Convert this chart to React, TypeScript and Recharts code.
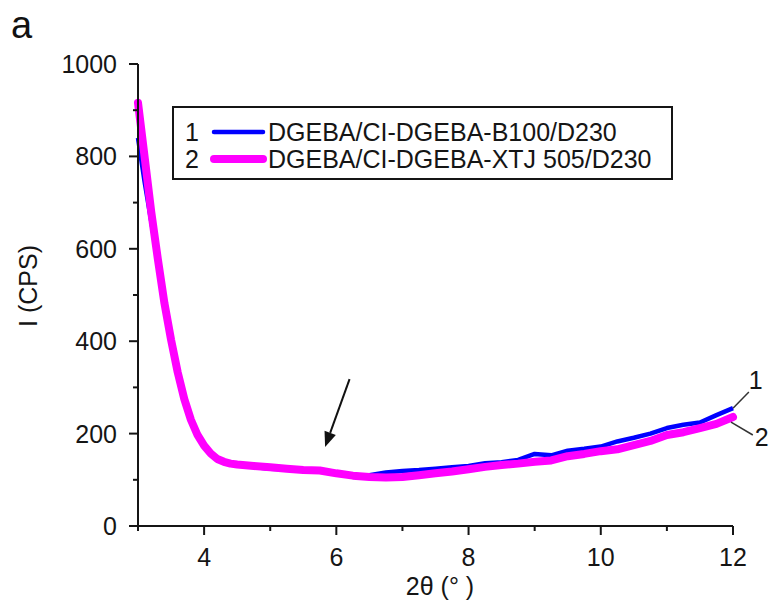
import React from "react";
import {
  LineChart,
  Line,
  XAxis,
  YAxis,
  ReferenceLine,
  Legend,
} from "recharts";

// 2θ grid
const twoTheta = [
  3.0, 3.1, 3.2, 3.3, 3.4, 3.5, 3.6, 3.7, 3.8, 3.9, 4.0, 4.1, 4.2, 4.3, 4.4,
  4.5, 4.75, 5.0, 5.25, 5.5, 5.75, 6.0, 6.25, 6.5, 6.75, 7.0, 7.25, 7.5, 7.75,
  8.0, 8.25, 8.5, 8.75, 9.0, 9.25, 9.5, 9.75, 10.0, 10.25, 10.5, 10.75, 11.0,
  11.25, 11.5, 11.75, 12.0,
];

// 1: DGEBA/CI-DGEBA-B100/D230
const seriesB100 = [
  840, 745, 660, 572, 480, 402, 333, 274, 229, 196, 173, 156, 144, 138, 134,
  132, 128, 124, 123, 121, 119, 113, 110, 110, 116, 119, 121, 124, 127, 130,
  136, 138, 143, 156, 153, 163, 167, 172, 183, 191, 200, 212, 219, 224, 240,
  255,
];

// 2: DGEBA/CI-DGEBA-XTJ 505/D230
const seriesXTJ = [
  916, 799, 680, 578, 482, 403, 333, 275, 230, 197, 174, 157, 145, 139, 135,
  133, 130, 127, 124, 121, 120, 114, 109, 106, 105, 106, 110, 114, 118, 123,
  128, 132, 135, 139, 142, 151, 156, 162, 166, 175, 184, 197, 203, 212, 221,
  236,
];

const xTicks = [3, 4, 5, 6, 7, 8, 9, 10, 11, 12];
const xLabelled = [4, 6, 8, 10, 12];
const yTicks = [0, 100, 200, 300, 400, 500, 600, 700, 800, 900, 1000];
const yLabelled = [0, 200, 400, 600, 800, 1000];

const legendItems = [
  { no: "1", name: "DGEBA/CI-DGEBA-B100/D230", color: "#0000ff", width: 4.5 },
  { no: "2", name: "DGEBA/CI-DGEBA-XTJ 505/D230", color: "#ff00ff", width: 8 },
];

const data = twoTheta.map((x, i) => ({
  x,
  b100: seriesB100[i],
  xtj: seriesXTJ[i],
}));

const FONT = "'Liberation Sans', Arial, sans-serif";
const INK = "#151515";

const XTick = (props: any) => {
  const { x, y, payload } = props;
  const major = xLabelled.includes(payload.value);
  return (
    <g>
      <line x1={x} y1={y} x2={x} y2={y + (major ? 9 : 5)} stroke={INK} strokeWidth={2} />
      {major && (
        <text x={x} y={y + 40} textAnchor="middle" fontSize={25} fontFamily={FONT} fill={INK}>
          {payload.value}
        </text>
      )}
    </g>
  );
};

const YTick = (props: any) => {
  const { x, y, payload } = props;
  const major = yLabelled.includes(payload.value);
  return (
    <g>
      <line x1={x} y1={y} x2={x - (major ? 9 : 5)} y2={y} stroke={INK} strokeWidth={2} />
      {major && (
        <text x={x - 21} y={y + 9} textAnchor="end" fontSize={25} fontFamily={FONT} fill={INK}>
          {payload.value}
        </text>
      )}
    </g>
  );
};

// arrow pointing at the weak hump
const arrowShape = (p: any) => {
  const { x1, y1, x2, y2 } = p;
  const dx = x2 - x1;
  const dy = y2 - y1;
  const len = Math.sqrt(dx * dx + dy * dy);
  const ux = dx / len;
  const uy = dy / len;
  const bx = x2 - ux * 15;
  const by = y2 - uy * 15;
  return (
    <g>
      <line x1={x1} y1={y1} x2={bx} y2={by} stroke="#111" strokeWidth={2} />
      <polygon
        points={`${x2},${y2} ${bx - uy * 6},${by + ux * 6} ${bx + uy * 6},${by - ux * 6}`}
        fill="#111"
      />
    </g>
  );
};

const leader = (label: string, tx: number, ty: number) => (p: any) => {
  const { x1, y1, x2, y2 } = p;
  return (
    <g>
      <line x1={x1} y1={y1} x2={x2} y2={y2} stroke="#333" strokeWidth={1.5} />
      <text x={x2 + tx} y={y2 + ty} fontSize={25} fontFamily={FONT} fill={INK}>
        {label}
      </text>
    </g>
  );
};

const renderLegend = () => (
  <div
    style={{
      boxSizing: "border-box",
      width: 501,
      height: 74,
      border: `2px solid ${INK}`,
      background: "#fff",
      position: "relative",
      fontFamily: FONT,
      fontSize: 25,
      color: INK,
    }}
  >
    {legendItems.map((it, i) => (
      <div
        key={it.no}
        style={{
          position: "absolute",
          left: 11,
          top: 10 + i * 27,
          height: 28,
          lineHeight: "28px",
          display: "flex",
          alignItems: "center",
          whiteSpace: "nowrap",
        }}
      >
        <span style={{ width: 25 }}>{it.no}</span>
        <svg width={57} height={12}>
          <line
            x1={4}
            y1={6}
            x2={53}
            y2={6}
            stroke={it.color}
            strokeWidth={it.width}
            strokeLinecap="round"
          />
        </svg>
        <span style={{ marginLeft: 1 }}>{it.name}</span>
      </div>
    ))}
  </div>
);

export default function App() {
  return (
    <div style={{ position: "absolute", left: 0, top: 0, width: 772, height: 603, background: "#fff" }}>
      <div
        style={{
          position: "absolute",
          left: 11,
          top: 6,
          fontFamily: FONT,
          fontSize: 38,
          lineHeight: "38px",
          color: "#111",
        }}
      >
        a
      </div>
      <LineChart
        width={772}
        height={603}
        data={data}
        margin={{ top: 64, right: 39, bottom: 0, left: 0 }}
      >
        <XAxis
          dataKey="x"
          type="number"
          domain={[3, 12]}
          ticks={xTicks}
          interval={0}
          height={77}
          tickSize={0}
          tickMargin={0}
          tickLine={false}
          axisLine={{ stroke: INK, strokeWidth: 2 }}
          tick={<XTick />}
          label={{
            content: () => (
              <text x={440} y={595} textAnchor="middle" fontSize={25} fontFamily={FONT} fill={INK}>
                2θ (° )
              </text>
            ),
          }}
        />
        <YAxis
          type="number"
          domain={[0, 1000]}
          ticks={yTicks}
          interval={0}
          width={138}
          tickSize={0}
          tickMargin={0}
          tickLine={false}
          axisLine={{ stroke: INK, strokeWidth: 2 }}
          tick={<YTick />}
          label={{
            content: () => (
              <text
                transform="translate(37, 286) rotate(-90)"
                textAnchor="middle"
                fontSize={25}
                fontFamily={FONT}
                fill={INK}
              >
                I (CPS)
              </text>
            ),
          }}
        />
        <Legend
          layout="vertical"
          align="center"
          verticalAlign="middle"
          content={renderLegend}
          wrapperStyle={{ left: 172, top: 106, width: 501 }}
        />
        <Line
          dataKey="b100"
          type="linear"
          stroke="#0000ff"
          strokeWidth={4.5}
          strokeLinejoin="round"
          dot={false}
          isAnimationActive={false}
        />
        <Line
          dataKey="xtj"
          type="linear"
          stroke="#ff00ff"
          strokeWidth={8}
          strokeLinejoin="round"
          strokeLinecap="round"
          dot={false}
          isAnimationActive={false}
        />
        <ReferenceLine
          segment={[
            { x: 6.2, y: 318 },
            { x: 5.83, y: 171 },
          ]}
          ifOverflow="visible"
          shape={arrowShape}
        />
        <ReferenceLine
          segment={[
            { x: 12.0, y: 255 },
            { x: 12.24, y: 290 },
          ]}
          ifOverflow="visible"
          shape={leader("1", 0, -3)}
        />
        <ReferenceLine
          segment={[
            { x: 11.97, y: 225 },
            { x: 12.3, y: 197 },
          ]}
          ifOverflow="visible"
          shape={leader("2", 2, 11)}
        />
      </LineChart>
    </div>
  );
}
